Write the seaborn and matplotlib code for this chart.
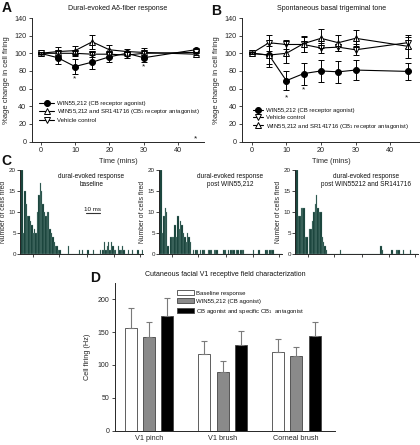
import numpy as np
import pandas as pd
import matplotlib
matplotlib.use("Agg")
import matplotlib.pyplot as plt
import seaborn as sns

# ---- data ----
times = [0, 5, 10, 15, 20, 25, 30, 45]

# A: dural-evoked A-delta response
a_win = [100, 95, 85, 90, 96, 100, 95, 104]
a_win_err = [1, 7, 8, 8, 6, 3, 5, 2]
a_winsr = [100, 102, 103, 113, 104, 102, 101, 99]
a_winsr_err = [1, 5, 5, 8, 5, 3, 5, 1]
a_veh = [100, 100, 100, 99, 99, 98, 100, 101]
a_veh_err = [1, 3, 3, 3, 3, 3, 3, 1]
a_stars_t = [10, 30, 45]
a_stars_y = [71, 85, 3]

# B: spontaneous basal trigeminal tone
b_win = [100, 98, 69, 77, 80, 79, 81, 79.5]
b_win_err = [1, 14, 11, 12.5, 12, 12.5, 11, 10]
b_veh = [100, 112, 110, 110, 106, 107, 104, 112]
b_veh_err = [1, 9, 5, 8, 6, 4, 6, 6]
b_winsr = [100, 98, 100, 111, 117, 112, 117, 108]
b_winsr_err = [1, 10, 11, 9, 11, 9, 9, 13]
b_stars_t = [10, 15]
b_stars_y = [50, 58]

# C: peri-stimulus histograms, counts per 1 ms bin
hist_baseline = [20, 20, 5, 15, 12, 9, 9, 8, 7, 5,
                 6, 5, 10, 14, 17, 15, 12, 10, 9, 10,
                 10, 6, 5, 4, 3, 2, 2, 1, 1, 0,
                 0, 0, 0, 0, 2, 0, 0, 0, 0, 0,
                 0, 0, 1, 0, 1, 0, 0, 0, 1, 0,
                 0, 0, 1, 0, 0, 0, 0, 1, 0, 1,
                 3, 1, 2, 3, 1, 3, 2, 1, 1, 0,
                 2, 1, 1, 2, 1, 0, 0, 1, 0, 0,
                 1, 0, 0, 0, 1, 0, 0, 1]
hist_win = [20, 20, 5, 9, 11, 10, 2, 0, 4, 4,
            4, 7, 4, 9, 6, 8, 7, 5, 4, 3,
            5, 4, 3, 0, 1, 0, 1, 1, 0, 1,
            0, 1, 1, 0, 0, 1, 1, 1, 0, 1,
            1, 1, 0, 0, 0, 0, 1, 1, 0, 1,
            0, 1, 1, 1, 0, 1, 1, 0, 1, 1,
            1, 0, 0, 0, 0, 0, 0, 1, 0, 0,
            0, 1, 0, 0, 0, 0, 1, 1, 0, 1,
            1, 1, 0, 0, 0, 0, 0, 0]
hist_winsr = [20, 20, 9, 9, 11, 11, 11, 4, 4, 0,
              6, 6, 8, 10, 12, 14, 11, 10, 10, 4,
              3, 2, 1, 0, 0, 0, 0, 0, 0, 0,
              0, 0, 1, 0, 0, 0, 0, 0, 0, 0,
              0, 0, 0, 0, 0, 0, 0, 0, 0, 0,
              0, 0, 0, 0, 0, 0, 0, 0, 0, 0,
              0, 2, 1, 0, 0, 0, 0, 0, 0, 1,
              0, 0, 1, 1, 1, 0, 0, 1, 0, 0,
              0, 0, 1, 0, 0, 0, 0, 0]
hist_titles = ["dural-evoked response\nbaseline",
               "dural-evoked response\npost WIN55,212",
               "dural-evoked response\npost WIN55212 and SR141716"]

# D: receptive field characterization
stimuli = ["V1 pinch", "V1 brush", "Corneal brush"]
conditions = ["Baseline response", "WIN55,212 (CB agonist)",
              "CB agonist and specific CB$_1$  antagonist"]
d_baseline = [156, 117, 120]
d_win = [142, 90, 113]
d_combo = [174, 130, 144]
d_baseline_err = [30, 19, 20]
d_win_err = [24, 16, 15]
d_combo_err = [28, 22, 22]

# ---- style ----
sns.set_style("ticks")
plt.rcParams["font.family"] = ["Liberation Sans", "DejaVu Sans"]
plt.rcParams["mathtext.default"] = "regular"
plt.rcParams["axes.linewidth"] = 0.7
plt.rcParams["text.color"] = "#111111"

fig = plt.figure(figsize=(4.2, 4.45), dpi=100)


def time_panel(ax, series, title, stars_t, stars_y, xlim, leg_anchor, handlelen):
    for vals, errs, marker, face, label in series:
        sns.lineplot(x=times, y=vals, ax=ax, color="black", linewidth=0.8,
                     marker=marker, markersize=4.3, markerfacecolor=face,
                     markeredgecolor="black", markeredgewidth=0.7, label=label)
        ax.errorbar(times, vals, yerr=errs, fmt="none", ecolor="black",
                    elinewidth=0.7, capsize=2, capthick=0.7)
    for t, y in zip(stars_t, stars_y):
        ax.text(t, y, "*", ha="center", va="center", fontsize=6)
    ax.set_xlim(*xlim)
    ax.set_ylim(0, 140)
    ax.set_xticks([0, 10, 20, 30, 40])
    ax.set_yticks([0, 20, 40, 60, 80, 100, 120, 140])
    ax.tick_params(labelsize=5.2, length=2, width=0.6, pad=2)
    ax.set_xlabel("Time (mins)", fontsize=5.3, labelpad=2.5)
    ax.set_ylabel("%age change in cell firing", fontsize=5.5, labelpad=3)
    ax.set_title(title, fontsize=5, pad=6)
    sns.despine(ax=ax)
    ax.legend(loc="upper left", bbox_to_anchor=leg_anchor, frameon=False,
              fontsize=4.3, handlelength=handlelen, labelspacing=0.25,
              handletextpad=0.4, borderaxespad=0, borderpad=0)


ax_a = fig.add_axes([0.076, 0.682, 0.41, 0.2775])
time_panel(ax_a,
           [(a_win, a_win_err, "o", "black", "WIN55,212 (CB receptor agonist)"),
            (a_winsr, a_winsr_err, "^", "white",
             "WIN55,212 and SR141716 (CB$_1$ receptor antagonist)"),
            (a_veh, a_veh_err, "v", "white", "Vehicle control")],
           "Dural-evoked A\u03b4-fiber response", a_stars_t, a_stars_y,
           (-2.5, 47.5), (0.04, 0.33), 2.6)

ax_b = fig.add_axes([0.577, 0.682, 0.423, 0.2775])
time_panel(ax_b,
           [(b_win, b_win_err, "o", "black", "WIN55,212 (CB receptor agonist)"),
            (b_veh, b_veh_err, "v", "white", "Vehicle control"),
            (b_winsr, b_winsr_err, "^", "white",
             "WIN55,212 and SR141716 (CB$_1$ receptor antagonist)")],
           "Spontaneous basal trigeminal tone", b_stars_t, b_stars_y,
           (-2.7, 48.6), (0.06, 0.27), 1.7)

# ---- C histograms ----
bin_edges = list(range(0, 89))
hist_lefts = [0.0476, 0.3786, 0.7024]
for i, counts in enumerate([hist_baseline, hist_win, hist_winsr]):
    ax = fig.add_axes([hist_lefts[i], 0.4285, 0.293, 0.1894])
    h_df = pd.DataFrame({"ms": bin_edges[:-1], "count": counts})
    sns.histplot(data=h_df, x="ms", weights="count", bins=bin_edges, ax=ax,
                 color="#0b362f", edgecolor="#86a89f", linewidth=0.2, alpha=1)
    ax.set_xlim(0, 88)
    ax.set_ylim(0, 20)
    ax.set_yticks([0, 5, 10, 15, 20])
    ax.set_xticks([9, 28, 48, 67, 86])
    ax.set_xticklabels([])
    ax.set_xlabel("")
    ax.tick_params(labelsize=4.5, length=2, width=0.6, pad=1)
    ax.set_ylabel("Number of cells fired", fontsize=4.9, labelpad=1)
    ax.text(0.58, 0.96, hist_titles[i], transform=ax.transAxes, ha="center",
            va="top", fontsize=4.7, linespacing=1.15)
    sns.despine(ax=ax)
    if i == 0:
        ax.plot([47, 57], [9.8, 9.8], color="#333333", linewidth=0.8)
        ax.text(52, 10.1, "10 ms", ha="center", va="bottom", fontsize=4.5)

# ---- D bars ----
d_df = pd.DataFrame({
    "stimulus": stimuli * 3,
    "condition": np.repeat(conditions, 3),
    "rate": d_baseline + d_win + d_combo,
})
d_err = d_baseline_err + d_win_err + d_combo_err

ax_d = fig.add_axes([0.274, 0.0321, 0.524, 0.331])
sns.barplot(data=d_df, x="stimulus", y="rate", hue="condition",
            palette=["white", "#8a8a8a", "black"], width=0.75, gap=0.35,
            errorbar=None, edgecolor="#444444", linewidth=0.6, ax=ax_d)
bars = list(ax_d.patches)[:9]
bx = [p.get_x() + p.get_width() / 2 for p in bars]
bh = [p.get_height() for p in bars]
ax_d.errorbar(bx, bh, yerr=[[0] * 9, d_err], fmt="none", ecolor="#7a7a7a",
              elinewidth=0.8, capsize=2.5, capthick=0.8)
ax_d.set_xlim(-0.46, 2.53)
ax_d.set_ylim(0, 224)
ax_d.set_yticks([0, 50, 100, 150, 200])
ax_d.tick_params(axis="y", labelsize=5, length=2, width=0.6, pad=2)
ax_d.tick_params(axis="x", labelsize=5.2, length=0, pad=3)
ax_d.set_xlabel("")
ax_d.set_ylabel("Cell firing (Hz)", fontsize=5.3, labelpad=5)
ax_d.set_title("Cutaneous facial V1 receptive field characterization",
               fontsize=5, pad=5)
sns.despine(ax=ax_d)
ax_d.legend(loc="upper left", bbox_to_anchor=(0.28, 0.955), frameon=False,
            fontsize=4.3, handlelength=2.9, handleheight=0.9, labelspacing=0.45,
            handletextpad=0.4, borderaxespad=0, borderpad=0)

# ---- panel letters ----
for x, y, letter in [(0.003, 0.998, "A"), (0.502, 0.992, "B"),
                     (0.003, 0.655, "C"), (0.215, 0.39, "D")]:
    fig.text(x, y, letter, fontsize=10, fontweight="bold", va="top")

fig.savefig("out.png", dpi=100)
